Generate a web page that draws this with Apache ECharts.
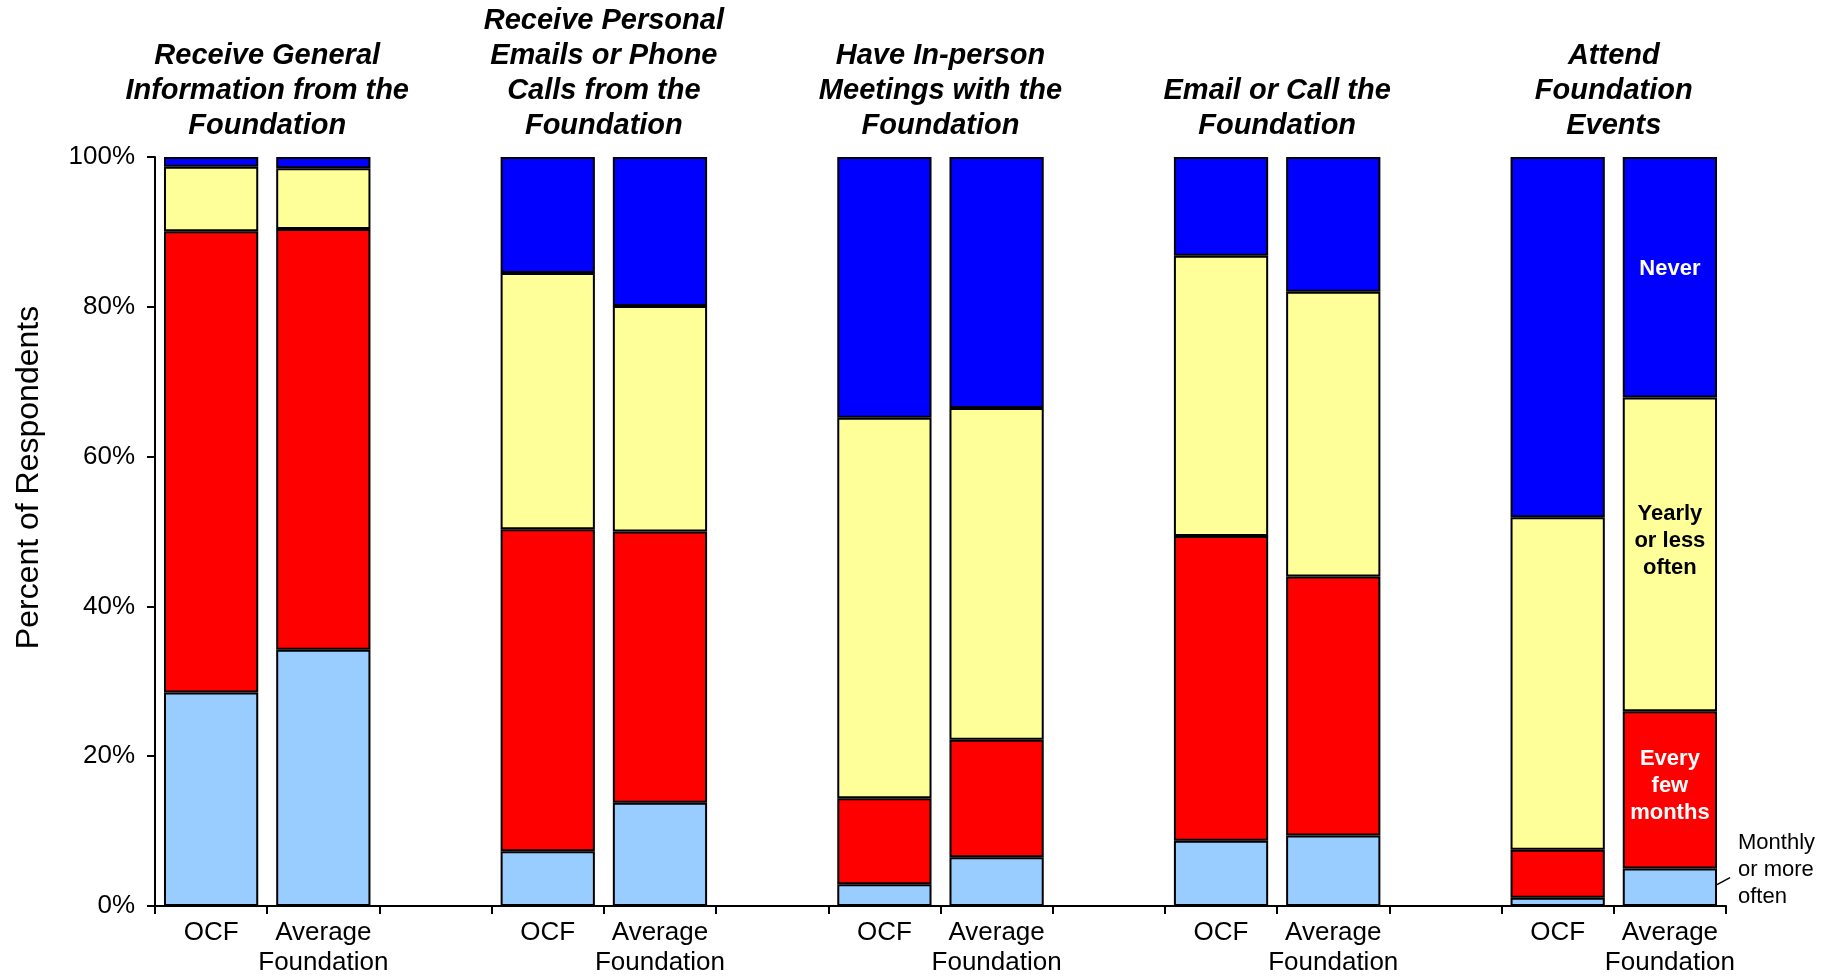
<!DOCTYPE html>
<html><head><meta charset="utf-8">
<script src="https://cdn.jsdelivr.net/npm/echarts@6/dist/echarts.min.js"></script>
<style>html,body{margin:0;padding:0;background:#fff}#c{width:1833px;height:978px}</style>
</head><body><div id="c"></div>
<script>
// ---- data ----
const groupTitles = [
  'Receive General\nInformation from the\nFoundation',
  'Receive Personal\nEmails or Phone\nCalls from the\nFoundation',
  'Have In-person\nMeetings with the\nFoundation',
  'Email or Call the\nFoundation',
  'Attend\nFoundation\nEvents'
];
const barNames = ['OCF', 'Average\nFoundation'];
const seriesNames = ['Monthly or more often', 'Every few months', 'Yearly or less often', 'Never'];
const segmentLabels = ['Monthly\nor more\noften', 'Every\nfew\nmonths', 'Yearly\nor less\noften', 'Never'];
// per bar: G1 OCF, G1 Avg, G2 OCF, G2 Avg, ...
const monthly        = [28.5, 34.2,  7.3, 13.8,  2.9,  6.5,  8.7,  9.4,  1.1,  5.0];
const everyFewMonths = [61.6, 56.2, 43.0, 36.2, 11.5, 15.7, 40.7, 34.6,  6.4, 21.0];
const yearly         = [ 8.6,  8.1, 34.2, 30.1, 50.8, 44.3, 37.4, 38.0, 44.4, 41.9];
const never          = [ 1.3,  1.5, 15.5, 19.9, 34.8, 33.5, 13.2, 18.0, 48.1, 32.1];
const yTickValues = [0, 20, 40, 60, 80, 100];

// ---- build ----
const colors = ['#99CCFF', '#FF0000', '#FFFF99', '#0000FF'];
const labelColors = ['#000', '#fff', '#000', '#fff'];
const labelOffsets = [0, -4, -13, -8];
const FONT = 'Liberation Sans, Arial, sans-serif';
const categories = [];
const idx = [];
groupTitles.forEach((t, g) => {
  barNames.forEach(b => { idx.push(categories.length); categories.push(b); });
  if (g < groupTitles.length - 1) categories.push('');
});
function expand(arr, s) {
  const out = categories.map(() => null);
  arr.forEach((v, i) => { out[idx[i]] = v; });
  const last = idx[arr.length - 1];
  if (s > 0) {
    out[last] = {
      value: arr[arr.length - 1],
      label: {
        show: true, position: 'inside', formatter: segmentLabels[s],
        color: labelColors[s], fontWeight: 'bold', fontSize: 22, lineHeight: 27,
        fontFamily: FONT, offset: [0, labelOffsets[s]]
      }
    };
  }
  return out;
}
const allSeries = [monthly, everyFewMonths, yearly, never];
const BAR_FRAC = 0.84;

const option = {
  animation: false,
  backgroundColor: '#fff',
  grid: { left: 155, right: 107, top: 157, bottom: 72 },
  xAxis: {
    type: 'category',
    data: categories,
    boundaryGap: true,
    axisLine: { show: true, lineStyle: { color: '#000', width: 2 } },
    axisTick: { show: true, alignWithLabel: false, interval: 0, length: 8, lineStyle: { color: '#000', width: 2 } },
    axisLabel: { interval: 0, color: '#000', fontSize: 26, lineHeight: 30, fontFamily: FONT, margin: 12 },
    splitLine: { show: false }
  },
  yAxis: {
    type: 'value',
    min: 0, max: 100, interval: 20,
    name: 'Percent of Respondents',
    nameLocation: 'middle',
    nameRotate: 90,
    nameGap: 110,
    nameTextStyle: { color: '#000', fontSize: 32, fontFamily: FONT, padding: [0, 0, 0, 108] },
    axisLine: { show: true, lineStyle: { color: '#000', width: 2 } },
    axisTick: { show: true, length: 8, lineStyle: { color: '#000', width: 2 } },
    axisLabel: { color: '#000', fontSize: 26, fontFamily: FONT, margin: 20,
      formatter: v => (yTickValues.indexOf(v) >= 0 ? v + '%' : '') },
    splitLine: { show: false }
  },
  series: allSeries.map((arr, s) => ({
    name: seriesNames[s],
    type: 'bar',
    stack: 'total',
    barWidth: (BAR_FRAC * 100) + '%',
    data: expand(arr, s),
    itemStyle: { color: colors[s], borderColor: '#000', borderWidth: 2 },
    label: { show: false }
  }))
};

const chart = echarts.init(document.getElementById('c'), null, { renderer: 'canvas' });
chart.setOption(option);

// ---- titles and annotation positioned through the axes ----
const px = i => chart.convertToPixel({ xAxisIndex: 0 }, i);
const py = v => chart.convertToPixel({ yAxisIndex: 0 }, v);
const catW = px(1) - px(0);
const graphics = groupTitles.map((t, g) => ({
  type: 'text',
  x: (px(idx[2 * g]) + px(idx[2 * g + 1])) / 2,
  y: py(100) - 14,
  style: {
    text: t, align: 'center', verticalAlign: 'bottom',
    font: 'italic bold 29px ' + FONT, lineHeight: 35, fill: '#000'
  }
}));
const lastI = idx[idx.length - 1];
const xr = px(lastI) + catW * BAR_FRAC / 2;
const mTop = py(monthly[monthly.length - 1]);
graphics.push({
  type: 'line',
  shape: { x1: xr, y1: mTop + 16, x2: xr + 13, y2: mTop + 9 },
  style: { stroke: '#000', lineWidth: 1.5 }
});
graphics.push({
  type: 'text',
  x: xr + 21,
  y: mTop + 1,
  style: {
    text: segmentLabels[0], align: 'left', verticalAlign: 'middle',
    font: '22px ' + FONT, lineHeight: 27, fill: '#000'
  }
});
chart.setOption({ graphic: graphics });
</script>
</body></html>
